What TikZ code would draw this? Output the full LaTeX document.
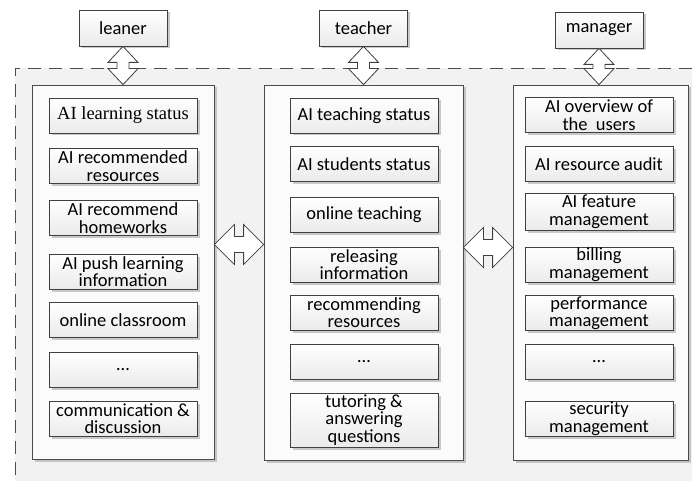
\documentclass[tikz,border=0pt]{standalone}
\usepackage{fontspec}
\setmainfont{Carlito}
\newfontfamily\timesfont{Liberation Serif}
\usetikzlibrary{shadows,calc}
\tikzset{
  bg/.style={fill=gray!10},
  frame/.style={draw=black!70, line width=0.8pt, dash pattern=on 13pt off 8pt},
  panel/.style={draw=black!70, line width=0.8pt, fill=gray!3,
    drop shadow={shadow xshift=2.5pt, shadow yshift=-2.5pt, fill=gray!70, opacity=0.6}},
  item/.style={draw=black!75, line width=0.8pt, top color=white, bottom color=gray!16,
    inner sep=0pt, align=center, minimum width=148pt, minimum height=35pt,
    font=\fontsize{18.5}{17.5}\selectfont,
    drop shadow={shadow xshift=2.5pt, shadow yshift=-2.5pt, fill=gray!70, opacity=0.6}},
  role/.style={item, minimum width=88pt, minimum height=36pt},
  barrow/.style={draw=black!75, line width=0.8pt, fill=white, line join=miter}
}
\newcommand\varrow[2]{\draw[barrow] (#1) -- ($(#1)+(15,16)$) -- ($(#1)+(6,16)$) -- ($(#2)+(6,-16)$) -- ($(#2)+(15,-16)$) -- (#2) -- ($(#2)+(-15,-16)$) -- ($(#2)+(-6,-16)$) -- ($(#1)+(-6,16)$) -- ($(#1)+(-15,16)$) -- cycle;}
\newcommand\harrow[2]{\draw[barrow] (#1) -- ($(#1)+(20,-20)$) -- ($(#1)+(20,-8)$) -- ($(#2)+(-20,-8)$) -- ($(#2)+(-20,-20)$) -- (#2) -- ($(#2)+(-20,20)$) -- ($(#2)+(-20,8)$) -- ($(#1)+(20,8)$) -- ($(#1)+(20,20)$) -- cycle;}
\begin{document}
\begin{tikzpicture}[x=1pt,y=-1pt]
\useasboundingbox (0,0) rectangle (692,481);
\fill[bg] (15,68) rectangle (692,481);
\coordinate (fa) at (692,68);
\coordinate (fb) at (15,68);
\coordinate (fc) at (15,481);
\draw[frame] (fa) -- (fb) -- (fc);

% panels
\node[panel, minimum width=182pt, minimum height=374pt] (lp) at (123,272) {};
\node[panel, minimum width=199pt, minimum height=375pt] (mp) at (363.5,272.5) {};
\node[panel, minimum width=175pt, minimum height=375pt] (rp) at (600.5,272.5) {};

% left items
\node[item] (l1) at (123,115.5) {\timesfont AI learning status};
\node[item] (l2) at (123,166) {AI recommended\\resources};
\node[item] (l3) at (123,218) {AI recommend\\homeworks};
\node[item] (l4) at (123,271.5) {AI push learning\\information};
\node[item] (l5) at (123,320) {online classroom};
\node[item] (l6) at (123,369.5) {…};
\node[item] (l7) at (123,418.5) {communication \&\\discussion};

% middle items
\node[item] (m1) at (364,115.5) {AI teaching status};
\node[item] (m2) at (364,164) {AI students status};
\node[item] (m3) at (364,215) {online teaching};
\node[item] (m4) at (364,264.5) {releasing\\information};
\node[item] (m5) at (364,312.5) {recommending\\resources};
\node[item] (m6) at (364,361.5) {…};
\node[item, minimum height=54pt] (m7) at (364,420) {tutoring \&\\answering\\questions};

% right items
\node[item] (r1) at (599,115) {AI overview of\\the\ \ users};
\node[item] (r2) at (599,164) {AI resource audit};
\node[item, minimum height=37pt] (r3) at (599,211.5) {AI feature\\management};
\node[item] (r4) at (599,264.5) {billing\\management};
\node[item] (r5) at (599,313) {performance\\management};
\node[item] (r6) at (599,361.5) {…};
\node[item] (r7) at (599,418.5) {security\\management};

% roles
\node[role] (le) at (123,28) {leaner};
\node[role] (te) at (363.5,28) {teacher};
\node[role] (mg) at (599,30) {manager};

% vertical arrows
\coordinate (va) at (le.south |- lp.north);
\coordinate (vb) at (te.south |- mp.north);
\coordinate (vc) at (mg.south |- rp.north);
\varrow{le.south}{va}
\varrow{te.south}{vb}
\varrow{mg.south}{vc}

% horizontal arrows
\coordinate (h1) at (0,244.5);
\coordinate (h2) at (0,247.5);
\coordinate (ha) at (lp.east |- h1);
\coordinate (hb) at (mp.west |- h1);
\coordinate (hc) at (mp.east |- h2);
\coordinate (hd) at (rp.west |- h2);
\harrow{ha}{hb}
\harrow{hc}{hd}
\end{tikzpicture}
\end{document}
